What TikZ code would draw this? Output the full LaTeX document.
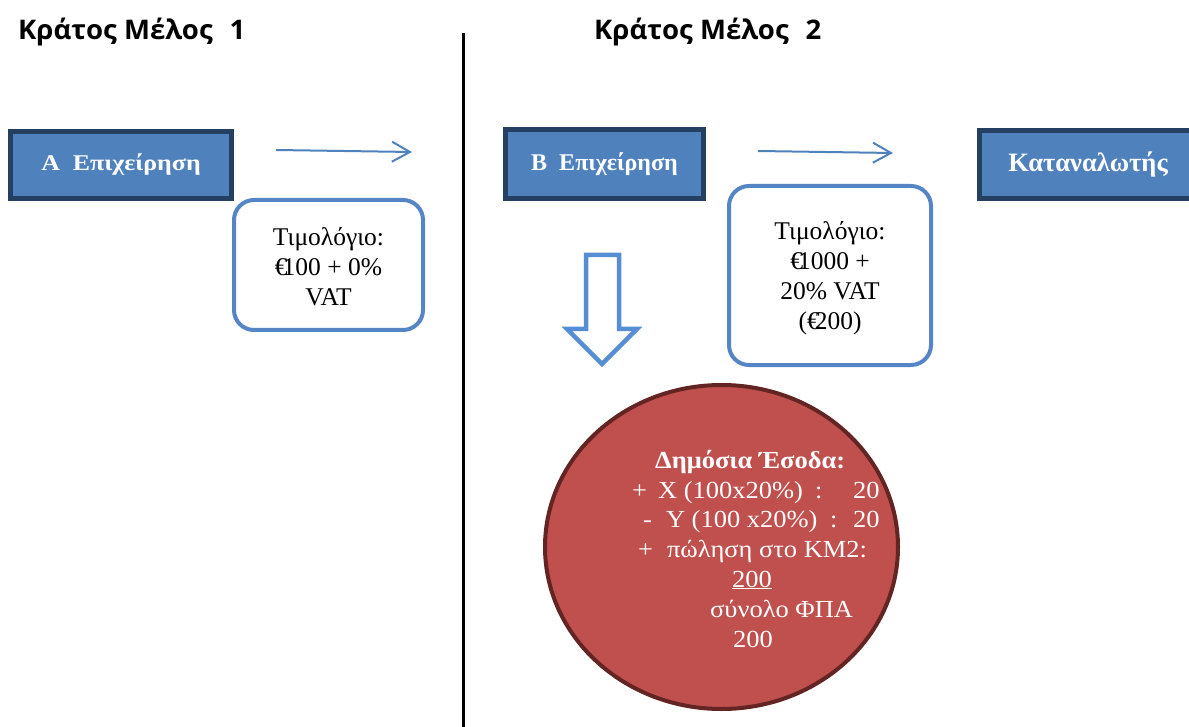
\documentclass[tikz,border=0pt]{standalone}
\usepackage{fontspec}
\setmainfont{Liberation Serif}
\newfontfamily\headfont[FakeStretch=1.02]{Open Sans}
\newfontfamily\widefont[FakeStretch=1.15]{Liberation Serif}
\newfontfamily\ovalfont[FakeStretch=1.08]{Liberation Serif}
\usetikzlibrary{arrows.meta,shapes.geometric}
\definecolor{boxfill}{HTML}{4F81BD}
\definecolor{boxedge}{HTML}{243F60}
\definecolor{flowblue}{HTML}{4F81BD}
\definecolor{invedge}{HTML}{5585C4}
\definecolor{downblue}{HTML}{558ED5}
\definecolor{ovalfill}{HTML}{C0504D}
\definecolor{ovaledge}{HTML}{632523}
\begin{document}
\begin{tikzpicture}[x=1pt,y=-1pt,
  firm/.style={draw=boxedge, line width=5pt, fill=boxfill, text=white, inner sep=0pt},
  invoice/.style={draw=invedge, line width=4pt, fill=white, rounded corners=20pt, inner sep=0pt},
  invtext/.style={align=center, font=\fontsize{25.5}{30}\selectfont, inner sep=0pt},
  title/.style={anchor=base west, font=\headfont\bfseries\fontsize{27}{32}\selectfont, inner sep=0pt},
  flow/.style={draw=flowblue, line width=2pt, -{Straight Barb[length=18pt,width=20pt,line width=2pt]}},
  revenue/.style={anchor=base west, text=white, font=\ovalfont\fontsize{24.5}{29}\selectfont, inner sep=0pt}
]
\useasboundingbox (0,0) rectangle (1189,727);

% headings and the border line between the two states
\node[title] (t1) at (18,40) {Κράτος Μέλος\hspace{17pt}1};
\node[title] (t2) at (594,40) {Κράτος Μέλος\hspace{17pt}2};
\draw[line width=3pt] (463,33) -- (463,727);

% businesses and consumer
\node[firm, minimum width=221pt, minimum height=67pt,
  font=\widefont\bfseries\fontsize{22.5}{26}\selectfont] (a) at (121,165) {Α\ \ Επιχείρηση};
\node[firm, minimum width=198pt, minimum height=69pt,
  font=\bfseries\fontsize{24}{28}\selectfont] (b) at (604.5,164) {Β\ \ Επιχείρηση};
\node[firm, minimum width=217pt, minimum height=68pt,
  font=\bfseries\fontsize{26.5}{30}\selectfont] (c) at (1088,164.5) {Καταναλωτής};

% sale arrows
\coordinate (f1s) at (276,150);
\coordinate (f1e) at (412,152);
\coordinate (f2s) at (758,151);
\coordinate (f2e) at (893,153);
\draw[flow] (f1s) -- (f1e);
\draw[flow] (f2s) -- (f2e);

% invoices
\node[invoice, minimum width=189pt, minimum height=130pt] (i1) at (328.5,265) {};
\node[invtext] (i1t) at (328.5,267) {Τιμολόγιο:\\ €\kern-5pt100 + 0\%\\ VAT};
\node[invoice, minimum width=202pt, minimum height=179pt] (i2) at (830,275.5) {};
\node[invtext] (i2t) at (830,278) {Τιμολόγιο:\\ €\kern-5pt1000 +\\ 20\% VAT\\ (€\kern-5pt200)};

% block arrow towards the revenue
\draw[draw=downblue, fill=white, line width=4.5pt, line join=miter]
  (586,255) -- (619,255) -- (619,329) -- (637,329) -- (602,364) -- (567,329) -- (586,329) -- cycle;

% public revenue
\node[ellipse, draw=ovaledge, line width=4pt, fill=ovalfill,
  minimum width=353pt, minimum height=324pt, inner sep=0pt] (rev) at (721.5,547) {};
\node[revenue, font=\ovalfont\bfseries\fontsize{24.5}{29}\selectfont] (r1) at (655,468) {Δημόσια Έσοδα:};
\node[revenue] (r2) at (632,498) {\makebox[183pt][l]{+\hspace{11pt}X (100x20\%)}\makebox[38pt][l]{:}20};
\node[revenue] (r3) at (643,527) {\makebox[187pt][l]{-\hspace{14pt}Y (100 x20\%)}\makebox[23pt][l]{:}20};
\node[revenue] (r4) at (638,557) {+\hspace{14pt}πώληση στο ΚΜ2:};
\node[revenue] (r5) at (732,587) {\underline{200}};
\node[revenue] (r6) at (710,617) {σύνολο ΦΠΑ};
\node[revenue] (r7) at (733,647) {200};
\end{tikzpicture}
\end{document}
